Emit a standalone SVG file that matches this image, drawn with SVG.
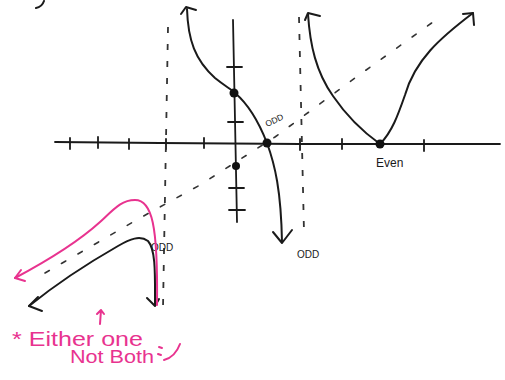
<svg xmlns="http://www.w3.org/2000/svg" width="505" height="380" viewBox="0 0 505 380">
<style>
.pen{fill:none;stroke:#1a1a1a;stroke-width:2;stroke-linecap:round;stroke-linejoin:round}
.axis{fill:none;stroke:#1a1a1a;stroke-width:1.8;stroke-linecap:round}
.dash{fill:none;stroke:#333;stroke-width:1.6;stroke-dasharray:5 14;stroke-linecap:round}
.vdash{fill:none;stroke:#333;stroke-width:1.8;stroke-dasharray:6 11}
.pink{fill:none;stroke:#e8338f;stroke-width:2;stroke-linecap:round;stroke-linejoin:round}
.lbl{font-family:"Liberation Sans",sans-serif;fill:#1a1a1a}
.ptxt{font-family:"Liberation Sans",sans-serif;fill:#e8338f}
.dot{fill:#111}
</style>
<rect width="505" height="380" fill="#fff"/>
<!-- fragment at top-left -->
<path class="pen" d="M44,1 Q42,7 36,8"/>
<!-- axes -->
<g id="axes">
<path class="axis" d="M55,142 L160,143 L300,144 L500,144"/>
<path class="axis" d="M233,20 L235,120 L237,222"/>
<g class="axis">
<path d="M70,138 V149"/><path d="M98,137 V148"/><path d="M129,139 V149"/><path d="M166,139 V149"/><path d="M204,138 V148"/>
<path d="M300,139 V150"/><path d="M342,139 V149"/><path d="M424,140 V151"/>
<path d="M227,67 H242"/><path d="M228,122 H243"/><path d="M229,188 H244"/><path d="M229,210 H245"/>
</g>
</g>
<!-- asymptotes -->
<g id="asymptotes">
<path class="vdash" d="M168,27 L163,308"/>
<path class="vdash" d="M299,17 L304,232"/>
<path class="dash" d="M45,273 L140,218 L200,185 L275,137 L355,78 L440,17"/>
</g>
<!-- odd curve in middle -->
<g id="curve-middle">
<path class="pen" d="M187,9 C188,40 195,60 215,78 C225,86 232,90 235,93 C248,104 258,120 267,143 C275,165 281,190 282,242"/>
<path class="pen" d="M181,14 L186,7 L196,10"/>
<path class="pen" d="M273,232 L282,243 L292,230"/>
<circle class="dot" cx="234" cy="93" r="4.5"/>
<circle class="dot" cx="267" cy="143" r="4.5"/>
<circle class="dot" cx="236" cy="166" r="4"/>
<text class="lbl" x="267" y="127" font-size="8.5" transform="rotate(-25 267 127)">ODD</text>
</g>
<!-- even curve -->
<g id="curve-even">
<path class="pen" d="M308,14 C310,45 316,72 333,96 C348,118 366,134 380,144 C392,132 398,115 405,95 C415,60 440,38 473,13"/>
<path class="pen" d="M305,20 L308,13 L320,16"/>
<path class="pen" d="M463,14 L473,13 L474,25"/>
<circle class="dot" cx="380" cy="144" r="4.5"/>
<text class="lbl" x="376" y="167" font-size="12">Even</text>
</g>
<!-- black lower-left curve -->
<g id="curve-black">
<path class="pen" d="M29,306 C55,285 90,262 118,246 C130,239 140,235 148,241 C156,250 155,275 155,305"/>
<path class="pen" d="M38,297 L29,306 L42,311"/>
<path class="pen" d="M147,298 L155,306 L159,299"/>
<text class="lbl" x="151" y="251" font-size="10">ODD</text>
</g>
<!-- pink curve -->
<g id="curve-pink">
<path class="pink" d="M15,278 C45,262 78,242 100,222 C115,208 122,200 135,200 C152,200 158,225 157,305"/>
<path class="pink" d="M21,270 L15,278 L25,281"/>
</g>
<text class="lbl" x="297" y="258" font-size="10">ODD</text>
<!-- annotation -->
<g id="note">
<path class="pink" d="M100,324 L101,310 M97,314 L101,310 L104,314"/>
<text class="ptxt" x="12" y="346" font-size="20" textLength="131" lengthAdjust="spacingAndGlyphs">* Either one</text>
<text class="ptxt" x="70" y="363" font-size="18" textLength="84" lengthAdjust="spacingAndGlyphs">Not Both</text>
<path class="pink" d="M159,347 L162,348 M158,354 L161,355 M164,360 C172,358 177,352 180,344"/>
</g>
</svg>
